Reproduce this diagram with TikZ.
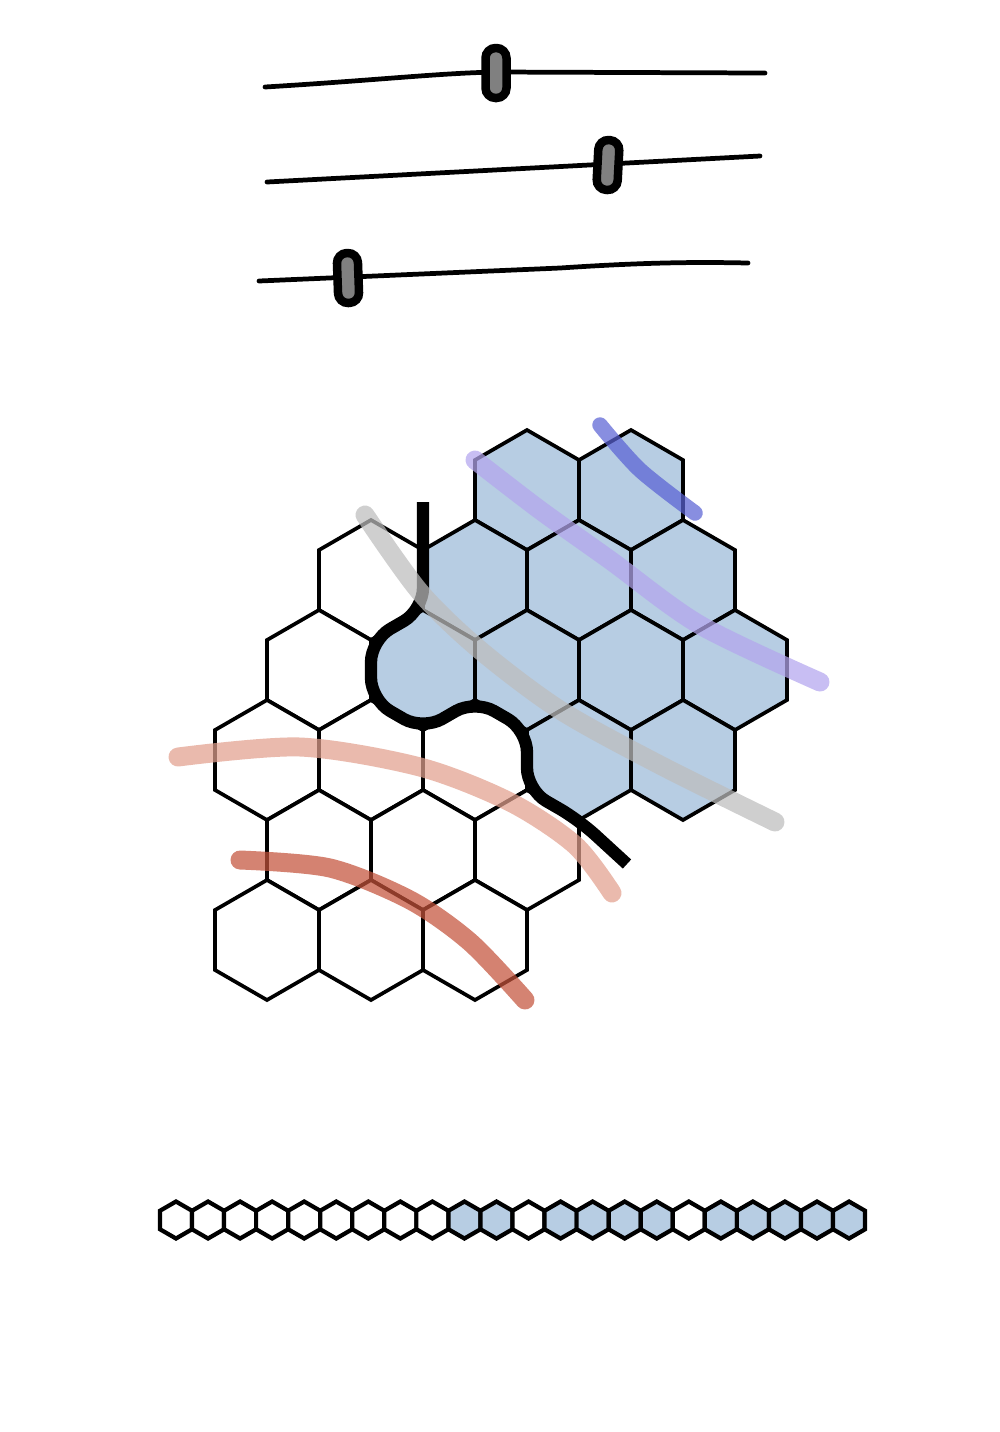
\documentclass[tikz,border=0pt]{standalone}
\usepackage{tikz}
\usetikzlibrary{shapes.geometric}
\definecolor{cellblue}{HTML}{B7CDE3}
\definecolor{inkblue}{HTML}{5A62D4}
\definecolor{lavender}{HTML}{B3A5EE}
\definecolor{smoke}{HTML}{BDBDBD}
\definecolor{salmon}{HTML}{E2A08E}
\definecolor{rust}{HTML}{C4533B}
\tikzstyle{cell} = [draw, regular polygon, regular polygon sides=6, rotate=30, minimum size=12mm, inner sep=0pt, line width=1.05pt, fill=white]
\tikzstyle{won} = [cell, fill=cellblue]
\tikzstyle{bead} = [draw, regular polygon, regular polygon sides=6, rotate=30, minimum size=3.7mm, inner sep=0pt, line width=1.2pt]
\tikzstyle{blank} = [fill=white]
\tikzstyle{owned} = [fill=cellblue]
\tikzstyle{knob} = [draw, rectangle, rounded corners=1mm, fill=gray, line width=0.85mm, minimum width=2.1mm, minimum height=5mm, inner sep=0pt]
\tikzstyle{rail} = [line width=1.35pt, line cap=round]
\tikzstyle{frontier} = [line width=3.5pt, rounded corners=2.2mm, line join=round]
\tikzstyle{pencil} = [line width=5.4pt, line cap=round, opacity=0.72]

\begin{document}
\begin{tikzpicture}[x=0.1mm, y=-0.1mm]
\useasboundingbox (0,0) rectangle (1000,1432);

% sliders
\draw [rail] (265,87) .. controls (380,80) and (440,73) .. (497,72) -- (765,73);
\draw [rail] (267,182) -- (608,164) -- (760,156);
\draw [rail] (259,281) -- (560,268) .. controls (650,262) and (700,262) .. (748,263);
\node [knob] (knob1) at (496,73) {};
\node [knob, rotate=-3] (knob2) at (608,165) {};
\node [knob, rotate=2] (knob3) at (348,278) {};

% board
\foreach \k/\r in {2/2,1/3,0/4,2/4,4/4,1/5,3/5,5/5,0/6,2/6,4/6}
  \node [cell] (h\r-\k) at ({267+52*\k},{400+90*\r}) {};
\foreach \k/\r in {5/1,7/1,4/2,6/2,8/2,3/3,5/3,7/3,9/3,6/4,8/4}
  \node [won] (h\r-\k) at ({267+52*\k},{400+90*\r}) {};

\draw [frontier] (423,502) -- (423,610) -- (371,640) -- (371,700) -- (423,730)
  -- (475,700) -- (527,730) -- (527,790) -- (579,820) -- (627,864);

\draw [pencil, inkblue, line width=4.4pt] plot [smooth] coordinates {(600,425) (640,470) (695,513)};
\draw [pencil, lavender] plot [smooth] coordinates {(475,460) (540,510) (610,560) (700,625) (820,682)};
\draw [pencil, smoke] plot [smooth] coordinates {(365,515) (420,592) (480,650) (560,710) (660,765) (775,822)};
\draw [pencil, salmon] plot [smooth] coordinates {(178,757) (300,747) (420,767) (510,802) (575,845) (612,893)};
\draw [pencil, rust] plot [smooth] coordinates {(240,860) (330,868) (410,900) (470,942) (525,1000)};

% game as a row
\foreach \c [count=\i from 0] in {blank,blank,blank,blank,blank,blank,blank,blank,blank,owned,owned,blank,owned,owned,owned,owned,blank,owned,owned,owned,owned,owned}
  \node [bead, \c] (b\i) at ({176+32.05*\i},1220) {};
\end{tikzpicture}
\end{document}
